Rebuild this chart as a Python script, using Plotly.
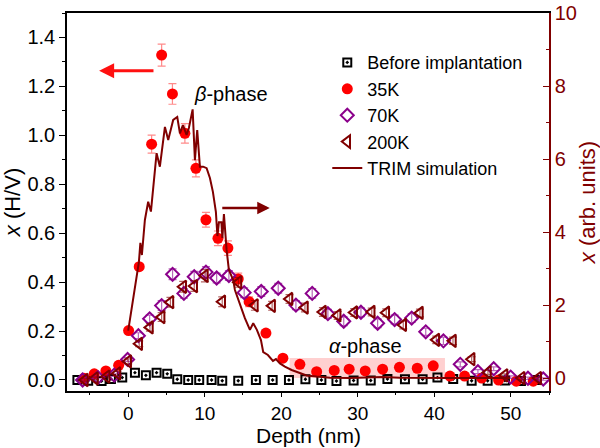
import plotly.graph_objects as go

# ---------------- data ----------------
before_x = [-6.64, -5.23, -3.48, -2.26, -0.78, 0.88, 2.31, 3.71, 5.10, 6.41, 7.84, 9.28, 10.90, 12.29,
            14.38, 16.69, 18.88, 21.01, 23.16, 25.25, 27.22, 29.46, 31.70, 33.88, 36.17, 38.48, 40.42,
            42.48, 44.89, 46.98, 49.24, 51.33, 53.39]
before_y = [0.0, -0.003, -0.004, 0.004, 0.010, 0.030, 0.019, 0.030, 0.025, 0.003, 0.0, 0.0, 0.0, -0.003,
            -0.003, 0.0, 0.0, 0.0, 0.003, 0.0, -0.004, -0.002, -0.002, 0.004, 0.003, 0.003, 0.010,
            0.004, -0.003, -0.003, -0.002, -0.004, 0.0]

k35_x = [-5.79, -4.44, -2.92, -1.25, 0.05, 1.44, 3.06, 4.37, 5.78, 7.41, 8.85, 10.16, 11.73, 13.03,
         14.38, 15.80, 18.00, 20.22, 22.44, 24.63, 26.93, 28.88, 30.98, 33.25, 35.45, 37.78, 39.87,
         42.05, 43.97, 46.20, 48.41, 50.72, 52.94]
k35_y = [0.007, 0.025, 0.037, 0.060, 0.202, 0.463, 0.964, 1.328, 1.169, 1.008, 0.865, 0.655, 0.579, 0.539,
         0.413, 0.320, 0.192, 0.089, 0.064, 0.034, 0.039, 0.044, 0.037, 0.044, 0.052, 0.048, 0.058,
         0.016, 0.016, 0.008, 0.0, -0.005, -0.005]
k35_err = [0.005, 0.005, 0.005, 0.005, 0.01, 0.012, 0.037, 0.045, 0.042, 0.04, 0.035, 0.03, 0.03, 0.03,
           0.024, 0.02, 0.012, 0.01, 0.008, 0.005, 0.005, 0.005, 0.005, 0.005, 0.005, 0.005, 0.005,
           0.005, 0.005, 0.005, 0.005, 0.005, 0.005]

k70_x = [-5.96, -3.96, -1.83, -0.08, 1.33, 2.80, 4.37, 5.80, 7.28, 8.63, 10.16, 11.56, 13.16, 15.16,
         17.39, 19.61, 21.92, 24.05, 26.10, 28.17, 30.42, 32.60, 34.82, 37.05, 38.89, 41.20, 43.40,
         45.71, 47.77, 49.99, 52.25, 54.25]
k70_y = [0.0, 0.010, 0.020, 0.084, 0.181, 0.250, 0.304, 0.432, 0.354, 0.422, 0.441, 0.417, 0.427, 0.357,
         0.362, 0.375, 0.306, 0.354, 0.271, 0.240, 0.277, 0.232, 0.247, 0.253, 0.197, 0.160, 0.064,
         0.034, 0.046, 0.012, 0.007, 0.004]
k70_err = [0.005, 0.005, 0.005, 0.008, 0.012, 0.015, 0.02, 0.022, 0.02, 0.022, 0.022, 0.02, 0.02, 0.02,
           0.02, 0.02, 0.018, 0.02, 0.018, 0.018, 0.018, 0.018, 0.018, 0.018, 0.015, 0.015, 0.01,
           0.008, 0.008, 0.005, 0.005, 0.005]

k200_x = [-5.66, -4.35, -2.82, -1.41, 0.0, 1.44, 2.84, 4.37, 5.52, 7.19, 8.63, 10.03, 12.29, 14.41,
          16.56, 18.81, 21.08, 23.10, 25.45, 27.38, 29.54, 31.83, 33.73, 35.95, 38.13, 40.27, 42.45,
          44.89, 47.02, 49.19, 51.42, 53.59]
k200_y = [0.0, 0.007, 0.014, 0.027, 0.076, 0.148, 0.215, 0.257, 0.318, 0.381, 0.384, 0.426, 0.320, 0.399,
          0.305, 0.303, 0.331, 0.296, 0.278, 0.264, 0.276, 0.278, 0.275, 0.225, 0.274, 0.164, 0.160,
          0.085, 0.031, 0.019, 0.008, 0.008]
k200_err = [0.005, 0.005, 0.005, 0.008, 0.01, 0.012, 0.015, 0.018, 0.02, 0.022, 0.022, 0.025, 0.02, 0.02,
            0.02, 0.018, 0.018, 0.018, 0.018, 0.016, 0.016, 0.016, 0.016, 0.016, 0.016, 0.015, 0.015,
            0.01, 0.008, 0.006, 0.005, 0.005]

trim_x = [0.0, 0.75, 1.14, 1.40, 1.59, 1.79, 2.18, 2.61, 2.97, 3.27, 3.71, 4.14, 4.80, 5.23, 5.88, 6.41,
          6.76, 7.15, 7.63, 7.93, 8.42, 8.72, 9.02, 9.37, 9.80, 10.25, 10.68, 11.07, 11.46, 11.66, 11.86,
          12.18, 12.31, 12.51, 12.86, 13.16, 13.73, 13.95, 14.60, 15.25, 15.91, 16.34, 16.82, 17.35,
          17.65, 18.26, 18.92, 19.31, 19.83, 20.48, 21.36, 22.01, 22.67, 23.32, 24.63, 26.37, 28.98,
          33.29, 35.50, 38.13, 42.05, 45.97, 49.90]
trim_y = [1.30, 2.25, 2.82, 3.18, 3.70, 3.37, 4.33, 4.83, 4.56, 5.24, 6.16, 5.79, 6.88, 6.52, 7.07, 7.15,
          6.70, 6.93, 6.66, 6.85, 7.36, 5.97, 6.79, 5.79, 5.79, 5.75, 5.48, 5.10, 4.55, 3.89, 4.27,
          4.27, 3.84, 4.49, 3.51, 2.96, 2.68, 2.41, 2.00, 1.64, 1.32, 1.50, 1.32, 1.04,
          0.71, 0.63, 0.47, 0.52, 0.40, 0.31, 0.22, 0.17, 0.13, 0.07, 0.04, 0.01, 0.0,
          0.03, 0.01, 0.0, 0.0, 0.0, 0.0]

x_range = [-8, 55]
yl_range = [-0.045, 1.5]
yr_range = [-0.356, 10]

FONT = "Arial, Liberation Sans, sans-serif"
DARKRED = "#800000"
PURPLE = "#8B008B"

fig = go.Figure()

fig.add_trace(go.Scatter(
    x=before_x, y=before_y, mode="markers", name="Before implantation", legendgroup="a",
    marker=dict(symbol="square-open-dot", size=8, color="black", line=dict(color="black", width=2)),
))
fig.add_trace(go.Scatter(
    x=k35_x, y=k35_y, mode="markers", name="35K", legendgroup="a",
    marker=dict(symbol="circle", size=11, color="#FF0000", line=dict(width=0)),
    error_y=dict(type="data", array=k35_err, visible=True, color="rgba(255,60,60,0.6)", thickness=1.2, width=4),
))
fig.add_trace(go.Scatter(
    x=k70_x, y=k70_y, mode="markers", name="70K", legendgroup="a",
    marker=dict(symbol="diamond-open", size=10, color=PURPLE, line=dict(color=PURPLE, width=2)),
    error_y=dict(type="data", array=k70_err, visible=True, color="rgba(139,0,139,0.6)", thickness=1.2, width=4),
))
fig.add_trace(go.Scatter(
    x=k200_x, y=k200_y, mode="markers", name="200K", legendgroup="a",
    marker=dict(symbol="triangle-left-open", size=11, color=DARKRED, line=dict(color=DARKRED, width=2)),
    error_y=dict(type="data", array=k200_err, visible=True, color="rgba(128,0,0,0.6)", thickness=1.2, width=4),
))
fig.add_trace(go.Scatter(
    x=trim_x, y=trim_y, mode="lines", name="TRIM simulation", legendgroup="b", yaxis="y2",
    line=dict(color=DARKRED, width=2),
))

# alpha-phase shaded box
fig.add_shape(type="rect", xref="x", yref="y", x0=21.1, x1=41.4, y0=0.008, y1=0.09,
              fillcolor="rgba(255,120,120,0.35)", line=dict(width=0), layer="below")

# arrows
fig.add_annotation(x=-3.8, y=1.264, ax=3.5, ay=1.264, xref="x", yref="y", axref="x", ayref="y",
                   text="", showarrow=True, arrowhead=2, arrowsize=1, arrowwidth=3, arrowcolor="#FF1010")
fig.add_annotation(x=18.5, y=0.703, ax=12.1, ay=0.703, xref="x", yref="y", axref="x", ayref="y",
                   text="", showarrow=True, arrowhead=2, arrowsize=1, arrowwidth=2.5, arrowcolor=DARKRED)

fig.add_annotation(x=8.3, y=1.169, xref="x", yref="y", text="<i>β</i>-phase", showarrow=False,
                   xanchor="left", yanchor="middle", font=dict(family=FONT, size=20, color="black"))
fig.add_annotation(x=26.0, y=0.139, xref="x", yref="y", text="<i>α</i>-phase", showarrow=False,
                   xanchor="left", yanchor="middle", font=dict(family=FONT, size=20, color="black"))

# x-axis title placed as annotation (pixel-precise)
fig.add_annotation(x=0.5, y=-0.118, xref="paper", yref="paper", text="Depth (nm)", showarrow=False,
                   xanchor="center", yanchor="middle", font=dict(family=FONT, size=21, color="black"))

fig.update_layout(
    width=600, height=448,
    margin=dict(l=67, r=51, t=13, b=57, autoexpand=False),
    paper_bgcolor="white", plot_bgcolor="white",
    font=dict(family=FONT, size=20, color="black"),
    showlegend=True,
    legend=dict(x=0.54, y=0.9175, xanchor="left", yanchor="top", bgcolor="rgba(0,0,0,0)",
                font=dict(family=FONT, size=18, color="black"), tracegroupgap=0,
                itemwidth=30),
    xaxis=dict(range=x_range, showgrid=False, zeroline=False, showline=True, linecolor="black",
               linewidth=1.5, mirror=True, ticks="outside", ticklen=4, tickwidth=1.2, tickcolor="black",
               tick0=0, dtick=10, tickfont=dict(size=19), automargin=False,
               minor=dict(ticks="outside", ticklen=2, dtick=5, tick0=0, tickcolor="black")),
    yaxis=dict(range=yl_range, showgrid=False, zeroline=False, showline=True, linecolor="black",
               linewidth=1.5, ticks="outside", ticklen=6, tickwidth=1.2, tickcolor="black",
               tick0=0, dtick=0.2, tickformat=".1f", tickfont=dict(size=20), automargin=False,
               minor=dict(ticks="outside", ticklen=3, dtick=0.1, tick0=0, tickcolor="black"),
               title=dict(text="<i>x</i> (H/V)", font=dict(size=22), standoff=6)),
    yaxis2=dict(range=yr_range, overlaying="y", side="right", showgrid=False, zeroline=False,
                showline=True, linecolor=DARKRED, linewidth=1.5, ticks="inside", ticklen=6, tickwidth=1.2,
                tickcolor=DARKRED, tick0=0, dtick=2, tickfont=dict(size=20, color=DARKRED), automargin=False,
                minor=dict(ticks="inside", ticklen=3, dtick=1, tick0=0, tickcolor=DARKRED),
                title=dict(text="<i>x</i> (arb. units)", font=dict(size=22, color=DARKRED), standoff=6)),
)

fig.write_html("out.html")
